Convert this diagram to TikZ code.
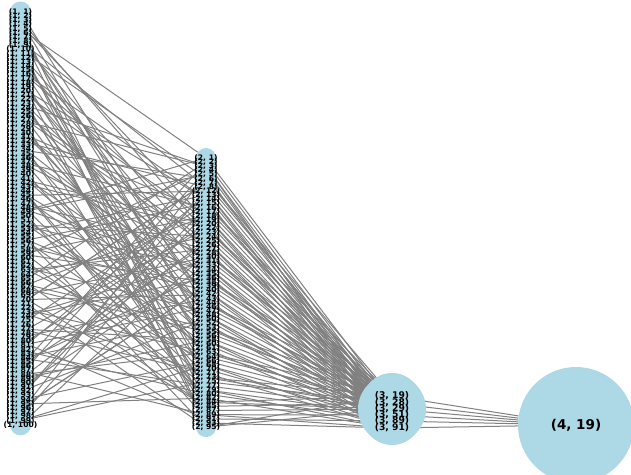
\documentclass[tikz,border=0pt]{standalone}
\usepackage{fontspec}
\setmainfont{DejaVu Sans}
\usepackage{tikz}
\usetikzlibrary{backgrounds}
\definecolor{lightblue}{RGB}{173, 216, 230}
\definecolor{edgegray}{RGB}{128, 128, 128}
\tikzstyle{unit} = [circle, fill=lightblue, draw=none, inner sep=0pt, minimum size=21pt]
\tikzstyle{unitlabel} = [inner sep=0pt, text=black, font=\bfseries\fontsize{7.6}{7.6}\selectfont]
\tikzstyle{midlabel} = [inner sep=0pt, text=black, font=\bfseries\fontsize{9.2}{9.2}\selectfont]
\tikzstyle{outlabel} = [inner sep=0pt, text=black, font=\bfseries\fontsize{13.5}{14}\selectfont]
\tikzstyle{link} = [draw=edgegray, line width=1pt]
\def\hiddenlist{1,2,3,4,5,6,7,8,12,13,14,15,16,17,18,19,20,22,23,24,25,26,27,28,30,31,33,34,35,36,38,39,40,42,43,44,46,47,48,50,52,53,55,56,58,60,61,63,64,66,68,70,71,73,75,77,79,80,82,84,85,87,89,91,93,95}
\def\thirdlist{19/396/40,28/403/60,29/409/68,51/415/60,89/421/44,91/428/28}

\begin{document}
\begin{tikzpicture}[x=1pt, y=-1pt]
\useasboundingbox (0,0) rectangle (631,474);

% units =============================
\foreach \k in {1,...,100}
  \node[unit] (a\k) at (20.5, {12+(\k-1)*4.17}) {};
\foreach \n [count=\k] in \hiddenlist
  \node[unit, minimum size=20pt] (b\k) at (206, {158+(\k-1)*4.14}) {};
\foreach \n/\yy/\d [count=\k] in \thirdlist
  \node[unit, minimum size=\d pt] (c\k) at (392, \yy) {};
\node[unit, minimum size=116pt] (d19) at (576, 425) {};

% labels
\foreach \k in {1,...,100}
  \node[unitlabel] at (a\k) {(1, \k)};
\foreach \n [count=\k] in \hiddenlist
  \node[unitlabel] at (b\k) {(2, \n)};
\foreach \n/\yy/\d [count=\k] in \thirdlist
  \node[midlabel] at (c\k) {(3, \n)};
\node[outlabel] at (d19) {(4, 19)};

% edges
\begin{scope}[on background layer]
\foreach \k in {1,...,66} {
  \pgfmathtruncatemacro\p{mod(\k*37+11,100)+1}
  \pgfmathtruncatemacro\q{mod(\k*61+43,100)+1}
  \pgfmathtruncatemacro\r{mod(\k,6)+1}
  \pgfmathtruncatemacro\s{mod(\k*5+2,6)+1}
  \pgfmathtruncatemacro\t{mod(\k,3)}
  \path[link] (a\p) -- (b\k);
  \path[link] (a\q) -- (b\k);
  \path[link] (b\k) -- (c\r);
  \ifnum\t=0 \path[link] (b\k) -- (c\s); \fi
}
\foreach \k in {1,...,6}
  \path[link] (c\k) -- (d19);
\end{scope}

\end{tikzpicture}
\end{document}
